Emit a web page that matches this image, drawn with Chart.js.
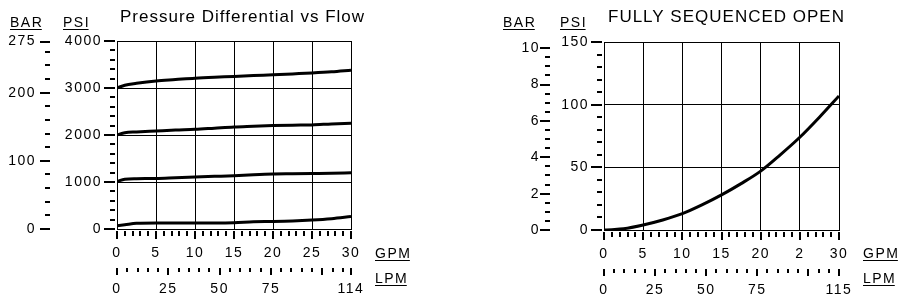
<!DOCTYPE html>
<html lang="en">
<head>
  <meta charset="UTF-8">
  <title>Pressure Differential vs Flow</title>
  <script src="https://cdn.jsdelivr.net/npm/chart.js"></script>
  <style>
    body { margin: 0; background: #fff; }
    canvas { position: absolute; top: 0; }
    #left { left: 0; }
    #right { left: 450px; }
  </style>
</head>
<body>
  <canvas id="left" width="450" height="302"></canvas>
  <canvas id="right" width="451" height="302"></canvas>

  <script>
    const PSI_PER_BAR = 14.5038;

    // flow points (GPM) the curves were read at
    const flowGpm = [0, 1, 2.5, 5, 7.5, 10, 12.5, 15, 17.5, 20, 22.5, 25, 27.5, 30];

    // left panel: one curve per relief setting, psi
    const relief3000 = [3000, 3060, 3100, 3150, 3180, 3210, 3230, 3245, 3265, 3280, 3300, 3320, 3345, 3380];
    const relief2000 = [2000, 2050, 2065, 2085, 2105, 2120, 2145, 2170, 2185, 2200, 2210, 2215, 2235, 2250];
    const relief1000 = [1010, 1060, 1070, 1075, 1090, 1105, 1120, 1135, 1155, 1170, 1175, 1180, 1185, 1195];
    const reliefZero = [70, 90, 120, 130, 130, 130, 130, 135, 155, 160, 170, 190, 220, 265];

    // right panel: fully sequenced open, psi
    const seqOpen = [0, 0.3, 1, 4, 8, 13, 20, 28, 37, 47, 60, 74, 90, 107];

    // tick labels
    const gpmTicks = [0, 5, 10, 15, 20, 25, 30];
    const gpmLabelsLeft = ['0', '5', '10', '15', '20', '25', '30'];
    const gpmLabelsRight = ['0', '5', '10', '15', '20', '2', '30'];
    const lpmTicksLeft = [0, 25, 50, 75, 114];
    const lpmTicksRight = [0, 25, 50, 75, 115];
    const psiTicksLeft = [0, 1000, 2000, 3000, 4000];
    const barTicksLeft = [0, 100, 200, 275];
    const psiTicksRight = [0, 50, 100, 150];
    const barTicksRight = [0, 2, 4, 6, 8, 10];

    const FONT = '"Liberation Sans", Arial, sans-serif';
    const tickFont = { family: FONT, size: 14 };
    const plain = v => String(v);

    // short tick marks (major + minor) on every axis
    const tickMarks = {
      id: 'tickMarks',
      beforeDraw(chart) {
        chart.ctx.letterSpacing = '1.5px';
      },
      afterDraw(chart, args, o) {
        const ctx = chart.ctx;
        const s = chart.scales;
        ctx.save();
        ctx.strokeStyle = '#000';
        ctx.lineWidth = 2;
        ctx.beginPath();
        for (let v = 0; v <= o.psiMax + 1e-6; v += o.psiStep) {
          const y = Math.round(s.y.getPixelForValue(v));
          const major = o.psiTicks.includes(v);
          ctx.moveTo(s.y.right - (major ? 13 : 7), y);
          ctx.lineTo(s.y.right - 2, y);
        }
        const barMax = o.psiMax / PSI_PER_BAR;
        const barVals = [];
        for (let v = 0; v <= barMax + 1e-6; v += o.barStep) barVals.push(+v.toFixed(3));
        o.barTicks.forEach(v => { if (!barVals.includes(v)) barVals.push(v); });
        barVals.forEach(v => {
          const y = Math.round(s.bar.getPixelForValue(v));
          const major = o.barTicks.includes(v);
          ctx.moveTo(s.bar.right - (major ? 12 : 7), y);
          ctx.lineTo(s.bar.right - 2, y);
        });
        for (let v = 0; v <= 30; v++) {
          const x = Math.round(s.x.getPixelForValue(v));
          ctx.moveTo(x, s.x.top + 2);
          ctx.lineTo(x, s.x.top + (v % 5 === 0 ? 10 : 7));
        }
        const lpmVals = [];
        for (let v = 0; v <= o.lpmMax; v += 5) lpmVals.push(v);
        if (!lpmVals.includes(o.lpmMax)) lpmVals.push(o.lpmMax);
        lpmVals.forEach(v => {
          const x = Math.round(s.lpm.getPixelForValue(v));
          const major = v % 25 === 0 || v === o.lpmMax;
          ctx.moveTo(x, s.lpm.top + 6);
          ctx.lineTo(x, s.lpm.top + (major ? 13 : 10));
        });
        ctx.stroke();
        ctx.restore();
      }
    };

    // title and underlined unit captions
    const captions = {
      id: 'captions',
      afterDraw(chart, args, o) {
        const ctx = chart.ctx;
        const area = chart.chartArea;
        ctx.save();
        ctx.fillStyle = '#000';
        ctx.strokeStyle = '#000';
        ctx.lineWidth = 1;
        ctx.textBaseline = 'alphabetic';
        ctx.textAlign = 'left';
        ctx.letterSpacing = '1px';
        ctx.font = '17px ' + FONT;
        ctx.fillText(o.title, o.titleX, 22);

        ctx.letterSpacing = '1.5px';
        ctx.font = '14px ' + FONT;
        const unit = (txt, x, y) => {
          ctx.fillText(txt, x, y);
          const w = ctx.measureText(txt).width - 1.5;
          ctx.beginPath();
          ctx.moveTo(x, y + 2.5);
          ctx.lineTo(x + w, y + 2.5);
          ctx.stroke();
        };
        unit('BAR', o.barX, 27);
        unit('PSI', o.psiX, 27);
        unit('GPM', area.right + 24, 258);
        unit('LPM', area.right + 24, 283);
        ctx.restore();
      }
    };

    function makePanel(id, p) {
      const datasets = p.series.map(vals => ({
        data: flowGpm.map((x, i) => ({ x: x, y: vals[i] })),
        borderColor: '#000',
        borderWidth: 3,
        pointRadius: 0,
        cubicInterpolationMode: 'monotone',
        fill: false
      }));

      new Chart(document.getElementById(id), {
        type: 'line',
        data: { datasets: datasets },
        options: {
          responsive: false,
          animation: false,
          events: [],
          layout: { padding: { top: p.top, right: p.right, left: 0, bottom: 0 } },
          plugins: {
            legend: { display: false },
            tooltip: { enabled: false },
            tickMarks: {
              psiMax: p.psiMax, psiStep: p.psiStep, psiTicks: p.psiTicks,
              barStep: p.barStep, barTicks: p.barTicks, lpmMax: p.lpmMax
            },
            captions: { title: p.title, titleX: p.titleX, barX: p.barX, psiX: p.psiX }
          },
          scales: {
            x: {
              type: 'linear', position: 'bottom', min: 0, max: 30, weight: 0,
              afterBuildTicks: s => { s.ticks = gpmTicks.map(v => ({ value: v })); },
              afterFit: s => { s.height = 33; },
              grid: { color: '#000', lineWidth: 1, drawTicks: false },
              border: { color: '#000', width: 1 },
              ticks: {
                autoSkip: false, maxRotation: 0, padding: 16, color: '#000', font: tickFont,
                callback: (v, i) => p.gpmLabels[i]
              }
            },
            lpm: {
              type: 'linear', position: 'bottom', min: 0, max: p.lpmMax, weight: 1,
              afterBuildTicks: s => { s.ticks = p.lpmTicks.map(v => ({ value: v })); },
              afterFit: s => { s.height = p.lpmHeight; },
              grid: { display: false, drawTicks: false },
              border: { display: false },
              ticks: { autoSkip: false, maxRotation: 0, padding: 19, color: '#000', font: tickFont, callback: plain }
            },
            y: {
              type: 'linear', position: 'left', min: 0, max: p.psiMax, weight: 0,
              afterBuildTicks: s => { s.ticks = p.psiTicks.map(v => ({ value: v })); },
              afterFit: s => { s.width = p.psiWidth; },
              grid: { color: '#000', lineWidth: 1, drawTicks: false },
              border: { color: '#000', width: 1 },
              ticks: { padding: 15, color: '#000', font: tickFont, callback: plain }
            },
            bar: {
              type: 'linear', position: 'left', min: 0, max: p.psiMax / PSI_PER_BAR, weight: 1,
              afterBuildTicks: s => { s.ticks = p.barTicks.map(v => ({ value: v })); },
              afterFit: s => { s.width = p.barWidth; },
              grid: { display: false, drawTicks: false },
              border: { display: false },
              ticks: { padding: p.barPad, color: '#000', font: tickFont, callback: plain }
            }
          }
        },
        plugins: [tickMarks, captions]
      });
    }

    makePanel('left', {
      title: 'Pressure Differential vs Flow', titleX: 120, barX: 10, psiX: 63,
      series: [relief3000, relief2000, relief1000, reliefZero],
      psiMax: 4000, psiStep: 200, psiTicks: psiTicksLeft,
      barStep: 20, barTicks: barTicksLeft,
      lpmMax: 114, lpmTicks: lpmTicksLeft, gpmLabels: gpmLabelsLeft,
      top: 41, right: 99, psiWidth: 65, barWidth: 52, barPad: 16, lpmHeight: 40
    });

    makePanel('right', {
      title: 'FULLY SEQUENCED OPEN', titleX: 158, barX: 53, psiX: 110,
      series: [seqOpen],
      psiMax: 150, psiStep: 10, psiTicks: psiTicksRight,
      barStep: 0.5, barTicks: barTicksRight,
      lpmMax: 115, lpmTicks: lpmTicksRight, gpmLabels: gpmLabelsRight,
      top: 42, right: 62, psiWidth: 52, barWidth: 102, barPad: 12, lpmHeight: 39
    });
  </script>
</body>
</html>
